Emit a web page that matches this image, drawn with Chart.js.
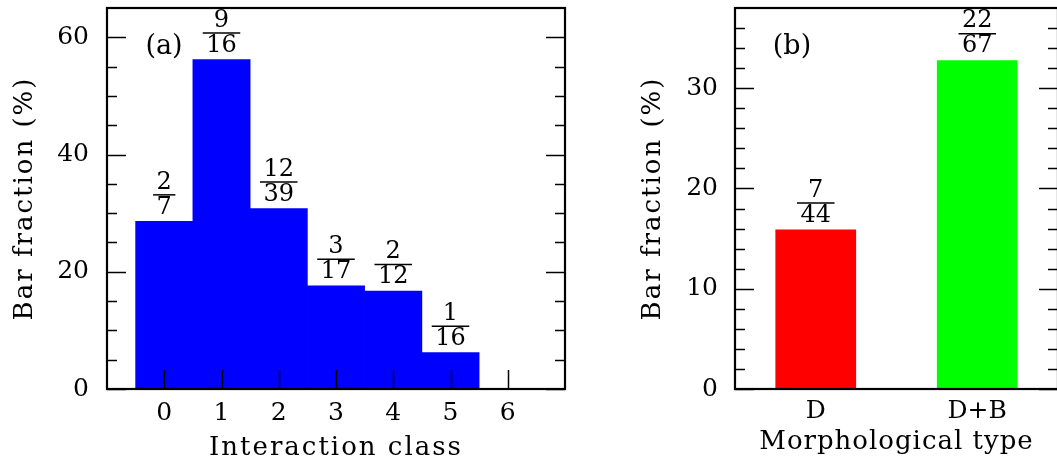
<!DOCTYPE html>
<html>
<head>
<meta charset="utf-8">
<script src="https://cdn.jsdelivr.net/npm/chart.js@4/dist/chart.umd.min.js"></script>
<style>
  html, body { margin: 0; padding: 0; background: #fff; overflow: hidden; width: 1057px; height: 468px; }
  #chartA { position: absolute; left: 0; top: 0; }
  #chartB { position: absolute; left: 600px; top: 0; }
</style>
</head>
<body>
<canvas id="chartA" width="600" height="468"></canvas>
<canvas id="chartB" width="470" height="468"></canvas>
<script>
// ============================================
// DATA — panel (a): interaction class
// ============================================
const classesA = [0, 1, 2, 3, 4, 5];
const valuesA = [28.6, 56.2, 30.8, 17.6, 16.7, 6.2];
const numA = ['2', '9', '12', '3', '2', '1'];
const denA = ['7', '16', '39', '17', '12', '16'];
const xTicksA = [0, 1, 2, 3, 4, 5, 6];
const yTicksA = [0, 20, 40, 60];
const yMinorA = [5, 10, 15, 25, 30, 35, 45, 50, 55];

// ============================================
// DATA — panel (b): morphological type
// ============================================
const typesB = ['D', 'D+B'];
const valuesB = [15.9, 32.8];
const numB = ['7', '22'];
const denB = ['44', '67'];
const yTicksB = [0, 10, 20, 30];
const yMinorB = [2, 4, 6, 8, 12, 14, 16, 18, 22, 24, 26, 28, 32, 34, 36];

const serif = '"DejaVu Serif", serif';
const tickFont = { family: serif, size: 25 };
const titleFont = { family: serif, size: 26 };
const fracFont = '24px ' + serif;
const panelFont = '27px ' + serif;

// letter spacing: tick labels tight, axis titles wide
function spacing(s, titleSp) {
  if (s._spaced) return;
  const dl = s.drawLabels, dt = s.drawTitle;
  s.drawLabels = function (ca) { this.ctx.letterSpacing = '0px'; dl.call(this, ca); };
  s.drawTitle = function () { this.ctx.letterSpacing = titleSp; dt.call(this); };
  s._spaced = true;
}

// no auto padding, fixed axis boxes
const fixY = (w, sp) => s => { s.width = w; s.paddingTop = 0; s.paddingBottom = 0; spacing(s, sp); };
const fixX = (h, sp) => s => { s.height = h; s.paddingLeft = 0; s.paddingRight = 0; spacing(s, sp); };

// ============================================
// FRAME / TICKS / FRACTIONS PLUGIN
// ============================================
const framePlugin = {
  id: 'frame',
  afterDatasetsDraw(chart, args, opts) {
    const { ctx, chartArea: a, scales: { x, y } } = chart;
    const line = (x1, y1, x2, y2) => { ctx.beginPath(); ctx.moveTo(x1, y1); ctx.lineTo(x2, y2); ctx.stroke(); };
    ctx.save();
    ctx.letterSpacing = '0px';
    ctx.strokeStyle = '#000';
    ctx.lineWidth = 1.5;

    // minor ticks on both sides
    opts.minor.forEach(v => {
      const py = Math.round(y.getPixelForValue(v)) + 0.5;
      line(a.left, py, a.left + 10, py);
      line(a.right - 10, py, a.right, py);
    });
    // major ticks
    opts.major.forEach(v => {
      const py = Math.round(y.getPixelForValue(v)) + 0.5;
      line(a.left, py, a.left + 19, py);
      line(a.right - 19, py, a.right, py);
    });
    // bottom ticks (pointing up)
    (opts.xMajor || []).forEach(v => {
      const px = Math.round(x.getPixelForValue(v)) + 0.5;
      line(px, a.bottom, px, a.bottom - 19);
    });

    // frame
    ctx.lineWidth = 2.2;
    ctx.strokeRect(a.left, a.top, a.right - a.left, a.bottom - a.top);

    // panel label
    ctx.fillStyle = '#000';
    ctx.font = panelFont;
    ctx.textAlign = 'center';
    ctx.textBaseline = 'middle';
    ctx.fillText(opts.label, a.left + 57, a.top + 39);

    // fraction labels over bars
    const meta = chart.getDatasetMeta(0);
    ctx.font = fracFont;
    meta.data.forEach((bar, i) => {
      const cx = bar.x;
      const ly = bar.y - 27;
      const w = Math.max(ctx.measureText(opts.num[i]).width, ctx.measureText(opts.den[i]).width) + 7;
      ctx.fillText(opts.num[i], cx, ly - 12);
      ctx.fillText(opts.den[i], cx, ly + 13);
      ctx.lineWidth = 1.5;
      line(cx - w / 2, ly + 0.5, cx + w / 2, ly + 0.5);
    });
    ctx.restore();
  }
};

// ============================================
// PANEL (a)
// ============================================
new Chart(document.getElementById('chartA'), {
  type: 'bar',
  data: {
    datasets: [{
      data: classesA.map((c, i) => ({ x: c, y: valuesA[i] })),
      backgroundColor: '#0000ff',
      borderWidth: 0,
      barPercentage: 1,
      categoryPercentage: 1
    }]
  },
  options: {
    responsive: false,
    animation: false,
    layout: { padding: { top: 8, right: 35, left: 0, bottom: 0 } },
    plugins: {
      legend: { display: false },
      tooltip: { enabled: false },
      frame: { label: '(a)', major: yTicksA, minor: yMinorA, xMajor: xTicksA, num: numA, den: denA }
    },
    scales: {
      x: {
        type: 'linear', min: -1, max: 7, offset: false,
        afterBuildTicks: s => { s.ticks = xTicksA.map(v => ({ value: v })); },
        afterFit: fixX(79, '2px'),
        grid: { display: false, drawTicks: false },
        border: { display: false },
        ticks: { autoSkip: false, maxRotation: 0, padding: 9, color: '#000', font: tickFont },
        title: { display: true, text: 'Interaction class', color: '#000', font: titleFont, padding: { top: 0, bottom: 4 } }
      },
      y: {
        min: 0, max: 65,
        afterBuildTicks: s => { s.ticks = yTicksA.map(v => ({ value: v })); },
        afterFit: fixY(107, '2px'),
        grid: { display: false, drawTicks: false },
        border: { display: false },
        ticks: { padding: 18, color: '#000', font: tickFont },
        title: { display: true, text: 'Bar fraction (%)', color: '#000', font: titleFont, padding: { top: 10, bottom: 0 } }
      }
    }
  },
  plugins: [framePlugin]
});

// ============================================
// PANEL (b)
// ============================================
new Chart(document.getElementById('chartB'), {
  type: 'bar',
  data: {
    labels: typesB,
    datasets: [{
      data: valuesB,
      backgroundColor: ['#ff0000', '#00ff00'],
      borderWidth: 0,
      barPercentage: 0.5,
      categoryPercentage: 1
    }]
  },
  options: {
    responsive: false,
    animation: false,
    layout: { padding: { top: 8, right: 12, left: 0, bottom: 0 } },
    plugins: {
      legend: { display: false },
      tooltip: { enabled: false },
      frame: { label: '(b)', major: yTicksB, minor: yMinorB, num: numB, den: denB }
    },
    scales: {
      x: {
        offset: true,
        afterFit: fixX(79, '1px'),
        grid: { display: false, drawTicks: false },
        border: { display: false },
        ticks: { autoSkip: false, maxRotation: 0, padding: 7, color: '#000', font: tickFont },
        title: { display: true, text: 'Morphological type', color: '#000', font: { family: serif, size: 26 }, padding: { top: 0, bottom: 10 } }
      },
      y: {
        min: 0, max: 38,
        afterBuildTicks: s => { s.ticks = yTicksB.map(v => ({ value: v })); },
        afterFit: fixY(135, '2px'),
        grid: { display: false, drawTicks: false },
        border: { display: false },
        ticks: { padding: 17, color: '#000', font: tickFont },
        title: { display: true, text: 'Bar fraction (%)', color: '#000', font: titleFont, padding: { top: 38, bottom: 0 } }
      }
    }
  },
  plugins: [framePlugin]
});
</script>
</body>
</html>
